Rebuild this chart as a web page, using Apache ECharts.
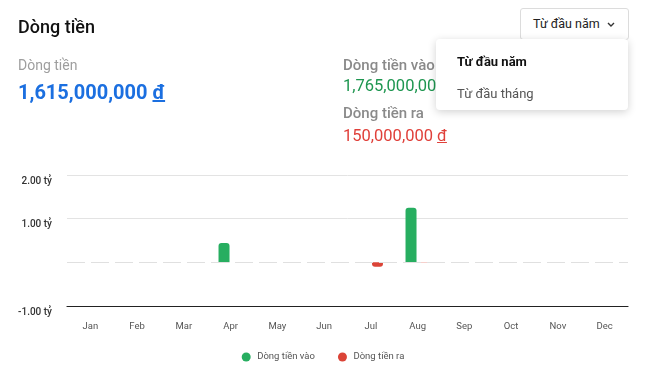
<!DOCTYPE html>
<html>
<head>
<meta charset="utf-8">
<script src="https://cdn.jsdelivr.net/npm/echarts@6/dist/echarts.min.js"></script>
<style>
  html, body { margin: 0; padding: 0; background: #fff; font-family: Roboto, "Noto Sans", sans-serif; }
  #wrap { position: relative; width: 646px; height: 374px; overflow: hidden; }
  #chart { position: absolute; left: 0; top: 0; width: 646px; height: 374px; }
  .t { position: absolute; white-space: nowrap; line-height: 1; }
  .u { text-decoration: underline; }
  #btn { position: absolute; left: 520px; top: 8px; width: 107px; height: 30px; border: 1px solid #dcdcdc; border-radius: 3px; box-sizing: content-box; background: #fff; }
  #menu { position: absolute; left: 436px; top: 39px; width: 192px; height: 71px; background: #fff; border-radius: 4px; box-shadow: 0 2px 8px rgba(0,0,0,0.18); }
</style>
</head>
<body>
<div id="wrap">
  <div id="chart"></div>
  <div class="t" style="left:18px;top:18px;font-size:18px;font-weight:500;color:#111;">Dòng tiền</div>
  <div class="t" style="left:18px;top:58px;font-size:14px;color:#9e9e9e;">Dòng tiền</div>
  <div class="t" style="left:18px;top:82px;font-size:20px;font-weight:700;color:#1b6fe0;">1,615,000,000 <span class="u">đ</span></div>
  <div class="t" style="left:343px;top:58px;font-size:15px;font-weight:500;color:#8a8a8a;">Dòng tiền vào</div>
  <div class="t" style="left:343px;top:78px;font-size:16.5px;color:#1e9650;">1,765,000,000 <span class="u">đ</span></div>
  <div class="t" style="left:343px;top:106px;font-size:15px;font-weight:500;color:#8a8a8a;">Dòng tiền ra</div>
  <div class="t" style="left:343px;top:128px;font-size:16.5px;color:#e0403a;">150,000,000 <span class="u">đ</span></div>
  <div id="btn">
    <div class="t" style="left:12px;top:9px;font-size:12.5px;color:#222;">Từ đầu năm</div>
    <svg style="position:absolute;left:86px;top:13px" width="8" height="6" viewBox="0 0 8 6"><path d="M1 1 L4 4 L7 1" fill="none" stroke="#333" stroke-width="1.4"/></svg>
  </div>
  <div id="menu">
    <div class="t" style="left:21px;top:16px;font-size:13px;font-weight:700;color:#111;">Từ đầu năm</div>
    <div class="t" style="left:21px;top:48px;font-size:13px;color:#555;">Từ đầu tháng</div>
  </div>
</div>
<script>
const categories = ['Jan','Feb','Mar','Apr','May','Jun','Jul','Aug','Sep','Oct','Nov','Dec'];
// values in tỷ (billion VND)
const inflow  = [0, 0, 0, 0.44, 0.01, 0, 0.01, 1.25, 0, 0, 0, 0];
const outflow = [0, 0, 0, 0, 0, 0, -0.1, -0.005, 0, 0, 0, 0];
const yTicks = [-1, 0, 1, 2];
const seriesNames = ['Dòng tiền vào', 'Dòng tiền ra'];

const chart = echarts.init(document.getElementById('chart'), null, { renderer: 'canvas' });
chart.setOption({
  animation: false,
  grid: { left: 67, right: 18, top: 175, bottom: 68 },
  legend: {
    bottom: 7,
    left: 'center',
    icon: 'circle',
    itemWidth: 12,
    itemHeight: 9,
    itemGap: 23,
    textStyle: { fontSize: 9.5, color: '#555', fontFamily: 'Roboto' },
    data: seriesNames
  },
  xAxis: {
    type: 'category',
    data: categories,
    axisLine: { onZero: false, lineStyle: { color: '#222', width: 1.2 } },
    axisTick: { show: false },
    axisLabel: { fontSize: 9.5, color: '#555', margin: 16, fontFamily: 'Roboto' }
  },
  yAxis: {
    type: 'value',
    min: yTicks[0],
    max: yTicks[yTicks.length - 1],
    interval: 1,
    axisLine: { show: false },
    axisTick: { show: false },
    axisLabel: {
      fontSize: 10, color: '#333', fontWeight: 500, margin: 15, fontFamily: 'Roboto',
      verticalAlign: 'top',
      padding: [1, 0, 0, 0],
      formatter: v => v === 0 ? '' : v.toFixed(2) + ' tỷ'
    },
    splitLine: { lineStyle: { color: ['rgba(0,0,0,0)', 'rgba(0,0,0,0)', '#e3e3e3', '#e3e3e3'], width: 1 } }
  },
  series: [
    {
      name: seriesNames[0],
      type: 'bar',
      data: inflow,
      barWidth: 11,
      barGap: '20%',
      itemStyle: { color: '#27ae60', borderRadius: [3, 3, 0, 0] },
      markLine: {
        silent: true,
        symbol: 'none',
        label: { show: false },
        lineStyle: { color: '#e0e0e0', type: [18, 6], width: 1 },
        data: [{ yAxis: 0 }]
      }
    },
    {
      name: seriesNames[1],
      type: 'bar',
      data: outflow,
      barWidth: 11,
      itemStyle: { color: '#db4437', borderRadius: [0, 0, 3, 3] }
    }
  ]
});
</script>
</body>
</html>
